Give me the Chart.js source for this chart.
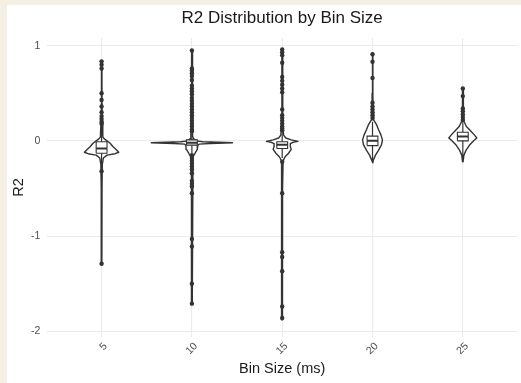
<!DOCTYPE html>
<html>
<head>
<meta charset="utf-8">
<script src="https://cdn.jsdelivr.net/npm/chart.js@4.4.1/dist/chart.umd.min.js"></script>
<style>
  body { margin: 0; background: #f5f0e4; }
  #wrap { position: absolute; left: 7px; top: 5px; width: 514px; height: 378px; background: #fff; }
</style>
</head>
<body>
<div id="wrap"><canvas id="r2Chart" width="514" height="378"></canvas></div>
<script>
// bins (ms), placed at x = 1..5 on a linear axis
const binLabels = ['5', '10', '15', '20', '25'];
const binPos = [1, 2, 3, 4, 5];

// violin outlines: R2 levels (top to bottom) and half-widths in bin units
const violinLevels = [
  [0.84, 0.5, 0.2, 0.08, 0.04, 0.02, 0.0, -0.025, -0.06, -0.09, -0.12, -0.135, -0.15, -0.18, -0.25, -0.5, -1.3],
  [0.95, 0.5, 0.15, 0.05, 0.02, 0.0, -0.01, -0.02, -0.028, -0.035, -0.05, -0.09, -0.13, -0.17, -0.4, -1.0, -1.71],
  [0.96, 0.5, 0.15, 0.06, 0.03, 0.01, -0.005, -0.015, -0.03, -0.06, -0.09, -0.13, -0.17, -0.21, -0.5, -1.88],
  [0.92, 0.5, 0.3, 0.22, 0.17, 0.12, 0.06, 0.01, -0.04, -0.1, -0.15, -0.2, -0.23],
  [0.55, 0.4, 0.25, 0.2, 0.15, 0.1, 0.06, 0.03, 0.0, -0.05, -0.1, -0.15, -0.22]
];
const violinWidths = [
  [0.003, 0.004, 0.006, 0.012, 0.015, 0.03, 0.06, 0.095, 0.125, 0.16, 0.19, 0.15, 0.06, 0.02, 0.008, 0.005, 0.003],
  [0.003, 0.004, 0.006, 0.012, 0.02, 0.05, 0.12, 0.45, 0.2, 0.08, 0.065, 0.06, 0.035, 0.012, 0.006, 0.004, 0.003],
  [0.003, 0.004, 0.008, 0.015, 0.04, 0.1, 0.175, 0.12, 0.09, 0.09, 0.1, 0.07, 0.03, 0.01, 0.004, 0.003],
  [0.003, 0.004, 0.006, 0.012, 0.045, 0.066, 0.094, 0.11, 0.1, 0.066, 0.033, 0.01, 0.003],
  [0.003, 0.005, 0.008, 0.015, 0.04, 0.09, 0.13, 0.155, 0.12, 0.07, 0.035, 0.012, 0.003]
];

// boxplot stats
const boxQ1 = [-0.13, -0.045, -0.08, -0.05, 0.0];
const boxMedian = [-0.08, -0.02, -0.04, 0.0, 0.045];
const boxQ3 = [-0.01, 0.01, -0.01, 0.05, 0.09];
const whiskerLow = [-0.28, -0.13, -0.18, -0.2, -0.2];
const whiskerHigh = [0.16, 0.09, 0.09, 0.2, 0.2];

// outlying runs
const outliers = [
  [0.835, 0.80, 0.76, 0.50, 0.43, 0.36, 0.30, 0.26, 0.23, 0.20, 0.18, -0.32, -1.29],
  [0.95, 0.76, 0.74, 0.71, 0.68, 0.64, 0.58, 0.55, 0.52, 0.49, 0.45, 0.42, 0.39, 0.36, 0.33, 0.30, 0.27, 0.24, 0.21, 0.18, 0.15, 0.12, 0.10,
   -0.15, -0.18, -0.21, -0.24, -0.27, -0.30, -0.34, -0.42, -0.45, -0.48, -0.55, -1.03, -1.11, -1.50, -1.71],
  [0.96, 0.93, 0.90, 0.82, 0.67, 0.63, 0.59, 0.55, 0.51, 0.33, 0.27, 0.24, 0.21, 0.18, 0.15, 0.13, 0.11,
   -0.22, -0.55, -1.17, -1.22, -1.37, -1.74, -1.86],
  [0.91, 0.83, 0.66, 0.40, 0.36, 0.33, 0.30, 0.27, 0.24],
  [0.55, 0.47, 0.34, 0.31, 0.28, 0.25, 0.22]
];

const ink = '#333333';
const boxHalf = 0.06;
const font = "'Liberation Sans', Arial, sans-serif";

const datasets = [];

// dots first so they end up on top
datasets.push({
  data: outliers.flatMap((vals, i) => vals.map(v => ({ x: binPos[i], y: v }))),
  showLine: false,
  pointRadius: 2.2,
  pointBackgroundColor: ink,
  pointBorderWidth: 0
});

binPos.forEach((x, i) => {
  datasets.push({
    data: [{ x: x - boxHalf, y: boxMedian[i] }, { x: x + boxHalf, y: boxMedian[i] }],
    showLine: true, borderColor: ink, borderWidth: 2, pointRadius: 0
  });
});

binPos.forEach((x, i) => {
  datasets.push({
    data: [
      { x: x - boxHalf, y: boxQ1[i] }, { x: x + boxHalf, y: boxQ1[i] },
      { x: x + boxHalf, y: boxQ3[i] }, { x: x - boxHalf, y: boxQ3[i] },
      { x: x - boxHalf, y: boxQ1[i] }
    ],
    showLine: true, fill: 'shape', backgroundColor: '#ffffff',
    borderColor: ink, borderWidth: 1.1, pointRadius: 0
  });
});

binPos.forEach((x, i) => {
  datasets.push({
    data: [{ x: x, y: whiskerLow[i] }, { x: x, y: whiskerHigh[i] }],
    showLine: true, borderColor: ink, borderWidth: 1.2, pointRadius: 0
  });
});

binPos.forEach((x, i) => {
  const lv = violinLevels[i], w = violinWidths[i];
  const right = lv.map((y, k) => ({ x: x + w[k], y: y }));
  const left = lv.map((y, k) => ({ x: x - w[k], y: y })).reverse();
  datasets.push({
    data: right.concat(left, [right[0]]),
    showLine: true, fill: 'shape', backgroundColor: '#ffffff',
    borderColor: ink, borderWidth: 1.4, borderJoinStyle: 'round', pointRadius: 0
  });
});

new Chart(document.getElementById('r2Chart'), {
  type: 'scatter',
  data: { datasets: datasets },
  options: {
    responsive: false,
    animation: false,
    layout: { padding: { left: 0, right: 1.4, top: 0, bottom: 0 } },
    plugins: {
      legend: { display: false },
      tooltip: { enabled: false },
      title: {
        display: true,
        fullSize: false,
        text: 'R2 Distribution by Bin Size',
        color: '#1a1a1a',
        font: { family: font, size: 17, weight: 'normal' },
        padding: { top: 3, bottom: 9.6 }
      }
    },
    scales: {
      x: {
        type: 'linear',
        min: 0.4,
        max: 5.6,
        afterBuildTicks: s => { s.ticks = binPos.map(v => ({ value: v })); },
        afterFit: s => { s.height = 46; },
        border: { display: false },
        grid: { color: '#ebebeb', lineWidth: 1.1, drawTicks: false },
        ticks: {
          autoSkip: false,
          minRotation: 45,
          maxRotation: 45,
          padding: 3,
          labelOffset: 4,
          color: '#4d4d4d',
          font: { family: font, size: 10.5 },
          callback: (v, idx) => binLabels[idx]
        },
        title: {
          display: true,
          text: 'Bin Size (ms)',
          color: '#1a1a1a',
          font: { family: font, size: 14.5 },
          padding: { top: 0, bottom: 5 }
        }
      },
      y: {
        min: -2.06,
        max: 1.08,
        afterFit: s => { s.width = 40.4; },
        border: { display: false },
        grid: { color: '#ebebeb', lineWidth: 1.1, drawTicks: false },
        ticks: {
          stepSize: 1,
          includeBounds: false,
          padding: 7,
          color: '#4d4d4d',
          font: { family: font, size: 10.5 }
        },
        title: {
          display: true,
          text: 'R2',
          color: '#1a1a1a',
          font: { family: font, size: 14.5 },
          padding: { top: 3, bottom: 0 }
        }
      }
    }
  }
});
</script>
</body>
</html>
